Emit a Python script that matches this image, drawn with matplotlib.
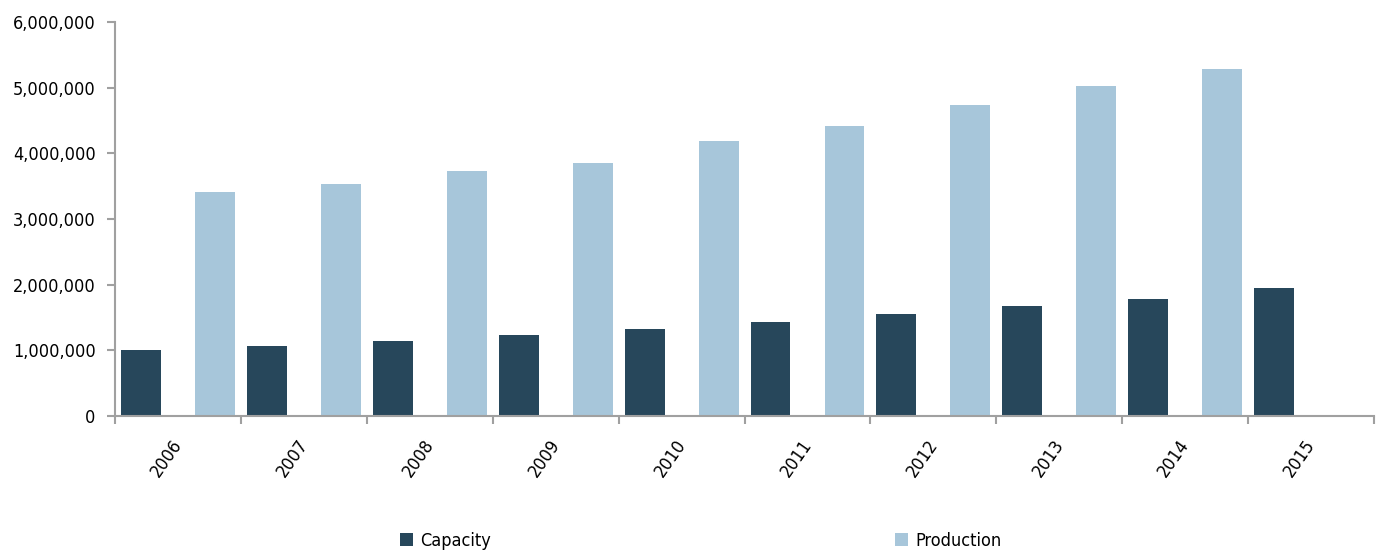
import numpy as np
import matplotlib
matplotlib.use('Agg')
from matplotlib import pyplot as plt
from matplotlib.ticker import FuncFormatter, FixedLocator, NullFormatter

plt.rcParams['font.family'] = ['Liberation Sans Narrow', 'DejaVu Sans']
plt.rcParams['font.stretch'] = 'condensed'

years = ['2006', '2007', '2008', '2009', '2010', '2011', '2012', '2013', '2014', '2015']
capacity = [1000000, 1065000, 1146000, 1229000, 1320000, 1427000, 1548000, 1670000, 1786000, 1945000]
production = [3406000, 3528000, 3730000, 3848000, 4183000, 4416000, 4736000, 5030000, 5280000, np.nan]

cap_color = '#27475B'
prod_color = '#A7C6DA'
axis_color = '#A0A0A0'

fig = plt.figure(figsize=(13.79, 5.52), dpi=100)
ax = fig.add_axes([0.0834, 0.2464, 0.9130, 0.7137])

x = np.arange(len(years))
w = 0.317
ax.bar(x - 0.294, capacity, w, color=cap_color, label='Capacity')
ax.bar(x + 0.294, production, w, color=prod_color, label='Production')

ax.set_xlim(-0.5, len(years) - 0.5)
ax.set_ylim(0, 6000000)
ax.set_yticks(np.arange(0, 6000001, 1000000))
ax.yaxis.set_major_formatter(FuncFormatter(lambda v, p: '{:,.0f}'.format(v)))

# tick marks at category boundaries, labels at centres
ax.xaxis.set_major_locator(FixedLocator(np.arange(-0.5, len(years), 1)))
ax.xaxis.set_major_formatter(NullFormatter())
ax.xaxis.set_minor_locator(FixedLocator(x + 0.005))
ax.set_xticklabels(years, minor=True, rotation=55, ha='right', va='center',
                   rotation_mode='anchor', fontsize=13)
ax.tick_params(axis='x', which='minor', length=0, pad=18.5)
ax.tick_params(axis='x', which='major', length=6, width=1.5, color=axis_color, direction='out')
ax.tick_params(axis='y', length=6, width=1.5, color=axis_color, labelsize=13, pad=8)

for s in ['top', 'right']:
    ax.spines[s].set_visible(False)
for s in ['left', 'bottom']:
    ax.spines[s].set_color(axis_color)
    ax.spines[s].set_linewidth(1.5)

fig.legend(loc='center', bbox_to_anchor=(0.508, 0.02), ncol=2, frameon=False,
           fontsize=13, columnspacing=22.4, handlelength=0.7, handleheight=0.7, handletextpad=0.4)

fig.savefig('out.png', dpi=100)
